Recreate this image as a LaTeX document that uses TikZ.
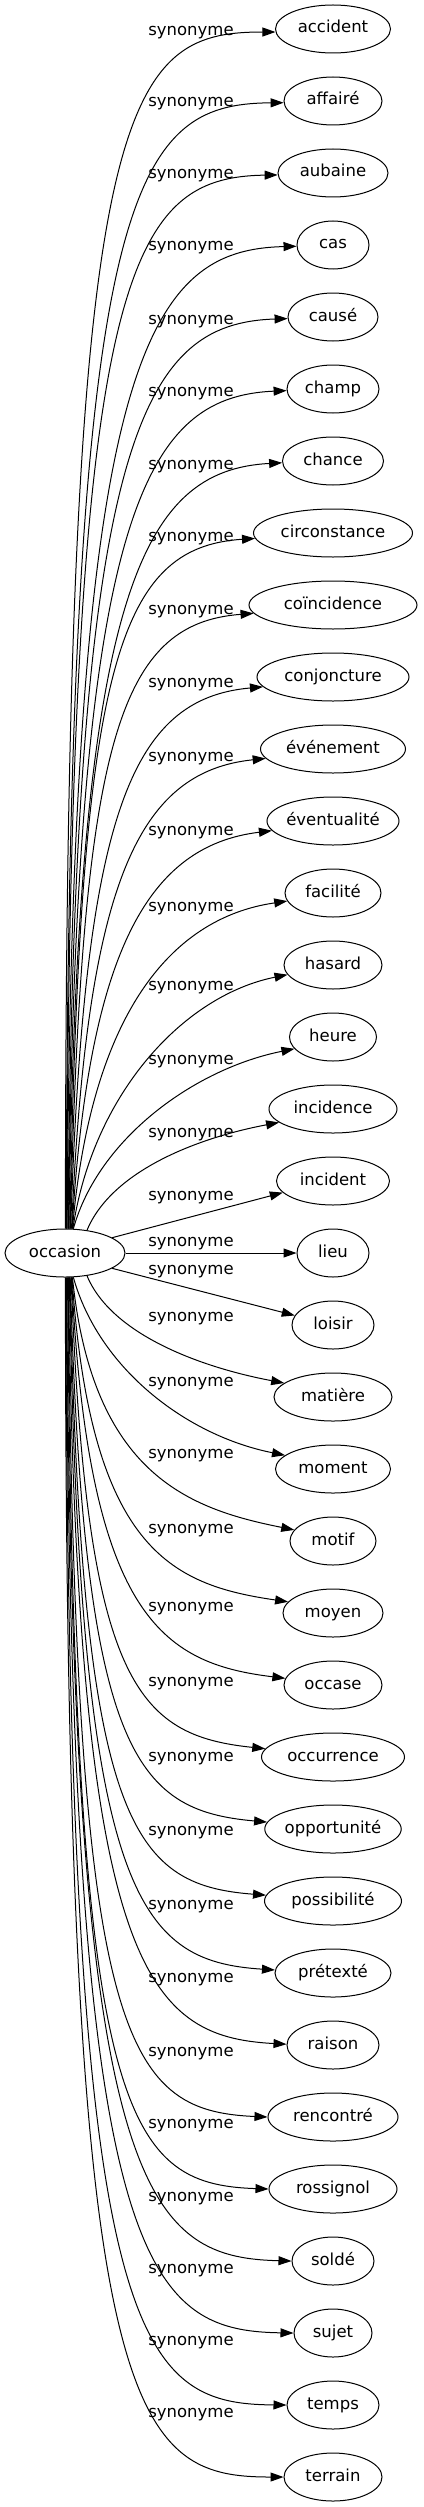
\documentclass[tikz,border=0pt]{standalone}
\usepackage{fontspec}
\setmainfont{DejaVu Sans}
\usetikzlibrary{shapes.geometric,arrows.meta}
\begin{document}
\begin{tikzpicture}[x=1pt,y=-1pt,
  every node/.style={font=\fontsize{16.5}{19}\selectfont, text height=11.5pt, text depth=3.5pt},
  word/.style={ellipse, draw, line width=1pt, inner sep=0pt, minimum height=48pt},
  lbl/.style={inner sep=0pt, anchor=center},
  edge/.style={line width=1pt, -{Triangle[length=13pt,width=9pt]}}]
\useasboundingbox (0,0) rectangle (423,2507);
\node[word, minimum width=120pt] (occ) at (65,1253) {occasion};
\foreach \w/\rx/\off/\ea [count=\j] in {
  accident/57.5/3/183, affairé/49/2/182, aubaine/55/2/182, cas/36/2/182,
  causé/45/3/182, champ/46/3/182, chance/50.5/4/182, circonstance/79.5/4/184,
  coïncidence/84/5/186, conjoncture/76/6/188, événement/72.5/8/188,
  éventualité/65/10/189, facilité/48/14/190, hasard/49/21/192, heure/43.5/23/197,
  incidence/64/24/194, incident/56.5/15/193, lieu/36/-11/180, loisir/41/-55/166,
  matière/59/-80/164, moment/57.5/-87/164, motif/43/-87/164, moyen/50/-84/166,
  occase/49/-78/172, occurrence/71.5/-75/173, opportunité/68/-72/174,
  possibilité/68.5/-70/175, prétexté/58/-68/177, raison/46/-67/179,
  rencontré/65/-65/180, rossignol/64/-65/180, soldé/41/-64/180, sujet/39/-64/180,
  temps/46/-64/180, terrain/49/-64/180}
{
  \pgfmathtruncatemacro\i{\j-1}
  \pgfmathsetmacro\yT{29+72*\i}
  \pgfmathsetmacro\ww{2*\rx}
  \pgfmathsetmacro\yL{\yT+\off}
  \node[word, minimum width=\ww pt] (n\j) at (333,\yT) {\w};
  \node[lbl] (l\j) at (191,\yL) {synonyme};
  \ifnum\i=17
    \draw[edge] (occ) -- (n\j);
  \else
    \ifnum\i<17
      \pgfmathtruncatemacro\k{17-\i}
      \pgfmathsetmacro\D{1229-\yT}
      \pgfmathsetmacro\sgn{-1}
    \else
      \pgfmathtruncatemacro\k{\i-17}
      \pgfmathsetmacro\D{\yT-1277}
      \pgfmathsetmacro\sgn{1}
    \fi
    \ifnum\k=1
      \pgfmathtruncatemacro\sa{\i<17 ? 18 : 342}
      \draw[edge] (occ.\sa) -- (n\j.\ea);
    \else\ifnum\k=2
      \pgfmathtruncatemacro\sa{\i<17 ? 46 : 314}
      \draw[edge] (occ.\sa) .. controls +(25,60*\sgn) and +(-80,-15*\sgn) .. (n\j.\ea);
    \else\ifnum\k=3
      \pgfmathtruncatemacro\sa{\i<17 ? 71 : 289}
      \draw[edge] (occ.\sa) .. controls +(25,90*\sgn) and +(-100,-20*\sgn) .. (n\j.\ea);
    \else
      \pgfmathsetmacro\s{sqrt((\k-4)/13)}
      \pgfmathsetmacro\ang{89-(17-\k)*1.3}
      \pgfmathsetmacro\sa{\i<17 ? \ang : 360-\ang}
      \pgfmathsetmacro\f{\i<17 ? 0.51+0.43*\s : 0.75+0.2*\s}
      \pgfmathsetmacro\hA{\f*\D}
      \pgfmathsetmacro\dx{20*(1-(\k-4)/13)}
      \pgfmathsetmacro\hB{104+52*\s}
      \pgfmathsetmacro\dy{0.2*\hB*(1-\s)}
      \draw[edge] (occ.\sa) .. controls +(\dx,\hA*\sgn) and +(-\hB,-\dy*\sgn) .. (n\j.\ea);
    \fi\fi\fi
  \fi
}
\end{tikzpicture}
\end{document}
